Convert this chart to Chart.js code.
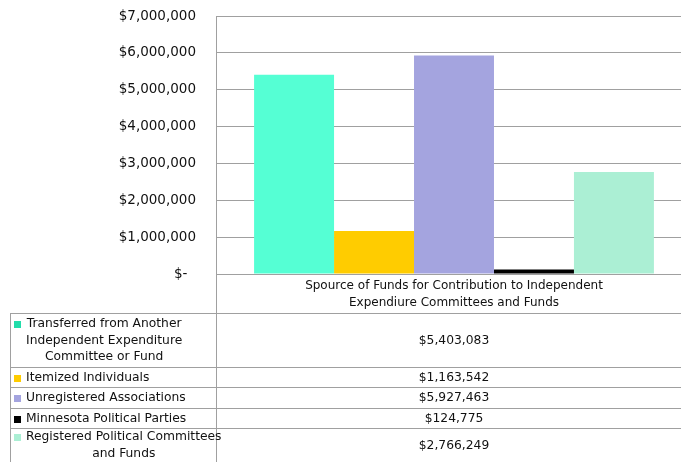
<!DOCTYPE html>
<html>
<head>
<meta charset="utf-8">
<script src="https://cdn.jsdelivr.net/npm/chart.js@4"></script>
<style>
  html, body { margin: 0; padding: 0; background: #fff; overflow: hidden; }
  #wrap { position: absolute; left: 0; top: 0; width: 692px; height: 462px; }
</style>
</head>
<body>
<div id="wrap"><canvas id="c" width="692" height="462"></canvas></div>
<script>
// ---- Data ----
const categoryLabel = ["Spource of Funds for Contribution to Independent", "Expendiure Committees and Funds"];
const seriesNames = [
  "Transferred from Another Independent Expenditure Committee or Fund",
  "Itemized Individuals",
  "Unregistered Associations",
  "Minnesota Political Parties",
  "Registered Political Committees and Funds"
];
const seriesTableLines = [
  ["Transferred from Another", "Independent Expenditure", "Committee or Fund"],
  ["Itemized Individuals"],
  ["Unregistered Associations"],
  ["Minnesota Political Parties"],
  ["Registered Political Committees", "and Funds"]
];
const seriesValues = [5403083, 1163542, 5927463, 124775, 2766249];
const seriesColors = ["#55FFD4", "#FFCC00", "#A4A4DF", "#000000", "#ABEFD4"];
const keyColors = ["#22DDAA", "#FFCC00", "#A4A4DF", "#000000", "#ABEFD4"];
const yMin = 0, yMax = 7000000, yStep = 1000000;

const FONT = "'DejaVu Sans', sans-serif";
const GRID = "#a0a0a0";
const TEXT = "#111";

function money(v) {
  if (v === 0) return "$-  ";
  return "$" + v.toLocaleString("en-US");
}

// Table geometry (row boundaries)
const tableTop = 313;
const rowBottoms = [367, 387, 408, 428, 462];
const tableLeft = 10;

const tablePlugin = {
  id: "dataTable",
  afterDraw(chart) {
    const ctx = chart.ctx;
    const xs = chart.scales.x;
    const area = chart.chartArea;
    const right = chart.width;
    const cx = xs.getPixelForValue(0);
    ctx.save();
    ctx.strokeStyle = GRID;
    ctx.lineWidth = 1;
    // axis extension
    ctx.beginPath();
    ctx.moveTo(area.left + 0.5, area.bottom);
    ctx.lineTo(area.left + 0.5, chart.height);
    ctx.stroke();
    // table horizontal lines
    const hs = [tableTop].concat(rowBottoms.slice(0, 4));
    hs.forEach(y => {
      ctx.beginPath();
      ctx.moveTo(tableLeft, y + 0.5);
      ctx.lineTo(right, y + 0.5);
      ctx.stroke();
    });
    // left border
    ctx.beginPath();
    ctx.moveTo(tableLeft + 0.5, tableTop);
    ctx.lineTo(tableLeft + 0.5, chart.height);
    ctx.stroke();

    ctx.font = "12.3px " + FONT;
    ctx.fillStyle = TEXT;
    ctx.textBaseline = "middle";
    let top = tableTop;
    seriesTableLines.forEach((lines, i) => {
      const bottom = rowBottoms[i];
      const mid = (top + bottom) / 2 + 0.5;
      const lh = 16.5;
      const n = lines.length;
      const widths = lines.map(l => ctx.measureText(l).width);
      const maxW = Math.max.apply(null, widths);
      const textX = 26;
      lines.forEach((l, k) => {
        const y = mid + (k - (n - 1) / 2) * lh;
        ctx.textAlign = "center";
        ctx.fillText(l, textX + maxW / 2, y);
      });
      // key square
      const firstY = mid - (n - 1) / 2 * lh;
      ctx.fillStyle = keyColors[i];
      ctx.fillRect(14, Math.round(firstY) - 3, 7, 7);
      ctx.fillStyle = TEXT;
      // value
      ctx.textAlign = "center";
      ctx.fillText(money(seriesValues[i]), cx, mid);
      top = bottom;
    });
    ctx.restore();
  }
};

const datasets = seriesNames.map((name, i) => ({
  label: name,
  data: [seriesValues[i]],
  backgroundColor: seriesColors[i],
  borderWidth: 0,
  barPercentage: 1.0,
  categoryPercentage: 0.84
}));

new Chart(document.getElementById("c"), {
  type: "bar",
  data: { labels: [categoryLabel], datasets },
  options: {
    responsive: false,
    animation: false,
    devicePixelRatio: 1,
    layout: { padding: { top: 16, right: 0, bottom: 0, left: 0 } },
    plugins: { legend: { display: false }, tooltip: { enabled: false } },
    scales: {
      x: {
        offset: true,
        grid: { display: true, offset: true, drawTicks: false, color: GRID },
        border: { display: true, color: GRID },
        ticks: { color: TEXT, padding: 4, maxRotation: 0, autoSkip: false,
                 font: { family: FONT, size: 12, lineHeight: 1.38 } },
        afterFit(scale) {
          scale.height = 188;
          scale.paddingLeft = 0; scale.paddingRight = 0;
          scale.paddingTop = 0; scale.paddingBottom = 0;
        }
      },
      y: {
        min: yMin, max: yMax,
        grid: { drawTicks: false, color: GRID },
        border: { display: true, color: GRID },
        ticks: { stepSize: yStep, padding: 20, color: TEXT,
                 font: { family: FONT, size: 13.5 },
                 callback: (v) => money(v) },
        afterFit(scale) {
          scale.width = 216;
          scale.paddingTop = 0; scale.paddingBottom = 0;
        }
      }
    }
  },
  plugins: [tablePlugin]
});
</script>
</body>
</html>
